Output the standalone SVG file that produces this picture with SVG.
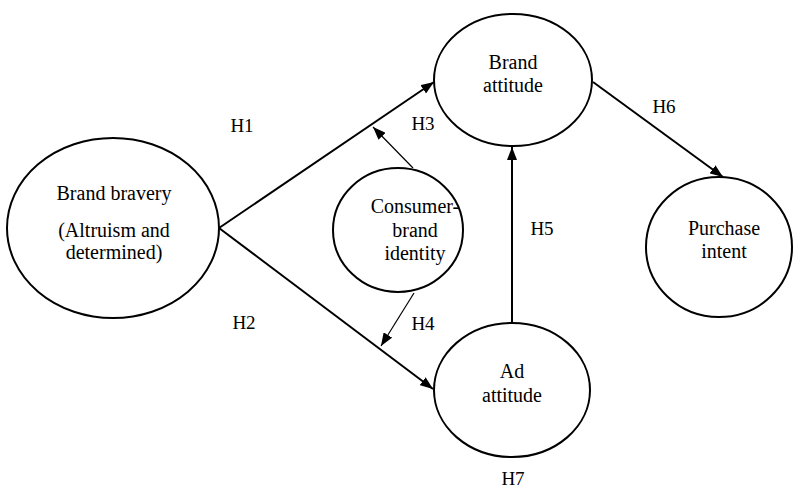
<svg xmlns="http://www.w3.org/2000/svg" width="794" height="488" viewBox="0 0 794 488">
<style>
.node{fill:#fff;stroke:#000;stroke-width:2}
.c{stroke:#000;fill:none}
.thick{stroke-width:2}
.thin{stroke-width:1.2}
</style>
<defs>
<marker id="ah" markerUnits="userSpaceOnUse" markerWidth="13" markerHeight="10" refX="13" refY="5" orient="auto">
<path d="M0,0 L13,5 L0,10 z" fill="#000"/>
</marker>
</defs>
<rect width="794" height="488" fill="#fff"/>
<g id="connectors">
<line class="c thick" x1="219" y1="228" x2="434" y2="82" marker-end="url(#ah)"/>
<line class="c thick" x1="219" y1="228" x2="433" y2="389" marker-end="url(#ah)"/>
<line class="c thin" x1="413" y1="168" x2="373" y2="127" marker-end="url(#ah)"/>
<line class="c thin" x1="414" y1="293" x2="381" y2="346" marker-end="url(#ah)"/>
<line class="c thick" x1="512" y1="323" x2="512" y2="147" marker-end="url(#ah)"/>
<line class="c thick" x1="593" y1="82" x2="723" y2="177" marker-end="url(#ah)"/>
</g>
<g id="labels" font-family="'Liberation Serif', serif" font-size="19" text-anchor="middle" fill="#000">
<text x="242" y="132">H1</text>
<text x="244" y="329">H2</text>
<text x="423" y="130">H3</text>
<text x="423" y="330">H4</text>
<text x="542" y="235">H5</text>
<text x="664" y="113">H6</text>
<text x="513" y="485">H7</text>
</g>
<g id="brand-bravery" font-family="'Liberation Serif', serif" font-size="20" text-anchor="middle" fill="#000">
<ellipse class="node" cx="113" cy="228" rx="106" ry="90"/>
<text x="114" y="200">Brand bravery</text>
<text x="114" y="237">(Altruism and</text>
<text x="114" y="259">determined)</text>
</g>
<g id="brand-attitude" font-family="'Liberation Serif', serif" font-size="20" text-anchor="middle" fill="#000">
<ellipse class="node" cx="513" cy="80" rx="79" ry="66"/>
<text x="513" y="69">Brand</text>
<text x="513" y="92">attitude</text>
</g>
<g id="consumer-brand-identity" font-family="'Liberation Serif', serif" font-size="20" text-anchor="middle" fill="#000">
<ellipse class="node" cx="398" cy="230" rx="65" ry="62"/>
<text x="415" y="213">Consumer-</text>
<text x="415" y="237">brand</text>
<text x="415" y="260">identity</text>
</g>
<g id="ad-attitude" font-family="'Liberation Serif', serif" font-size="20" text-anchor="middle" fill="#000">
<ellipse class="node" cx="512" cy="390" rx="78" ry="67"/>
<text x="512" y="378">Ad</text>
<text x="512" y="402">attitude</text>
</g>
<g id="purchase-intent" font-family="'Liberation Serif', serif" font-size="20" text-anchor="middle" fill="#000">
<ellipse class="node" cx="719" cy="247" rx="73" ry="70"/>
<text x="724" y="235">Purchase</text>
<text x="724" y="258">intent</text>
</g>
</svg>
